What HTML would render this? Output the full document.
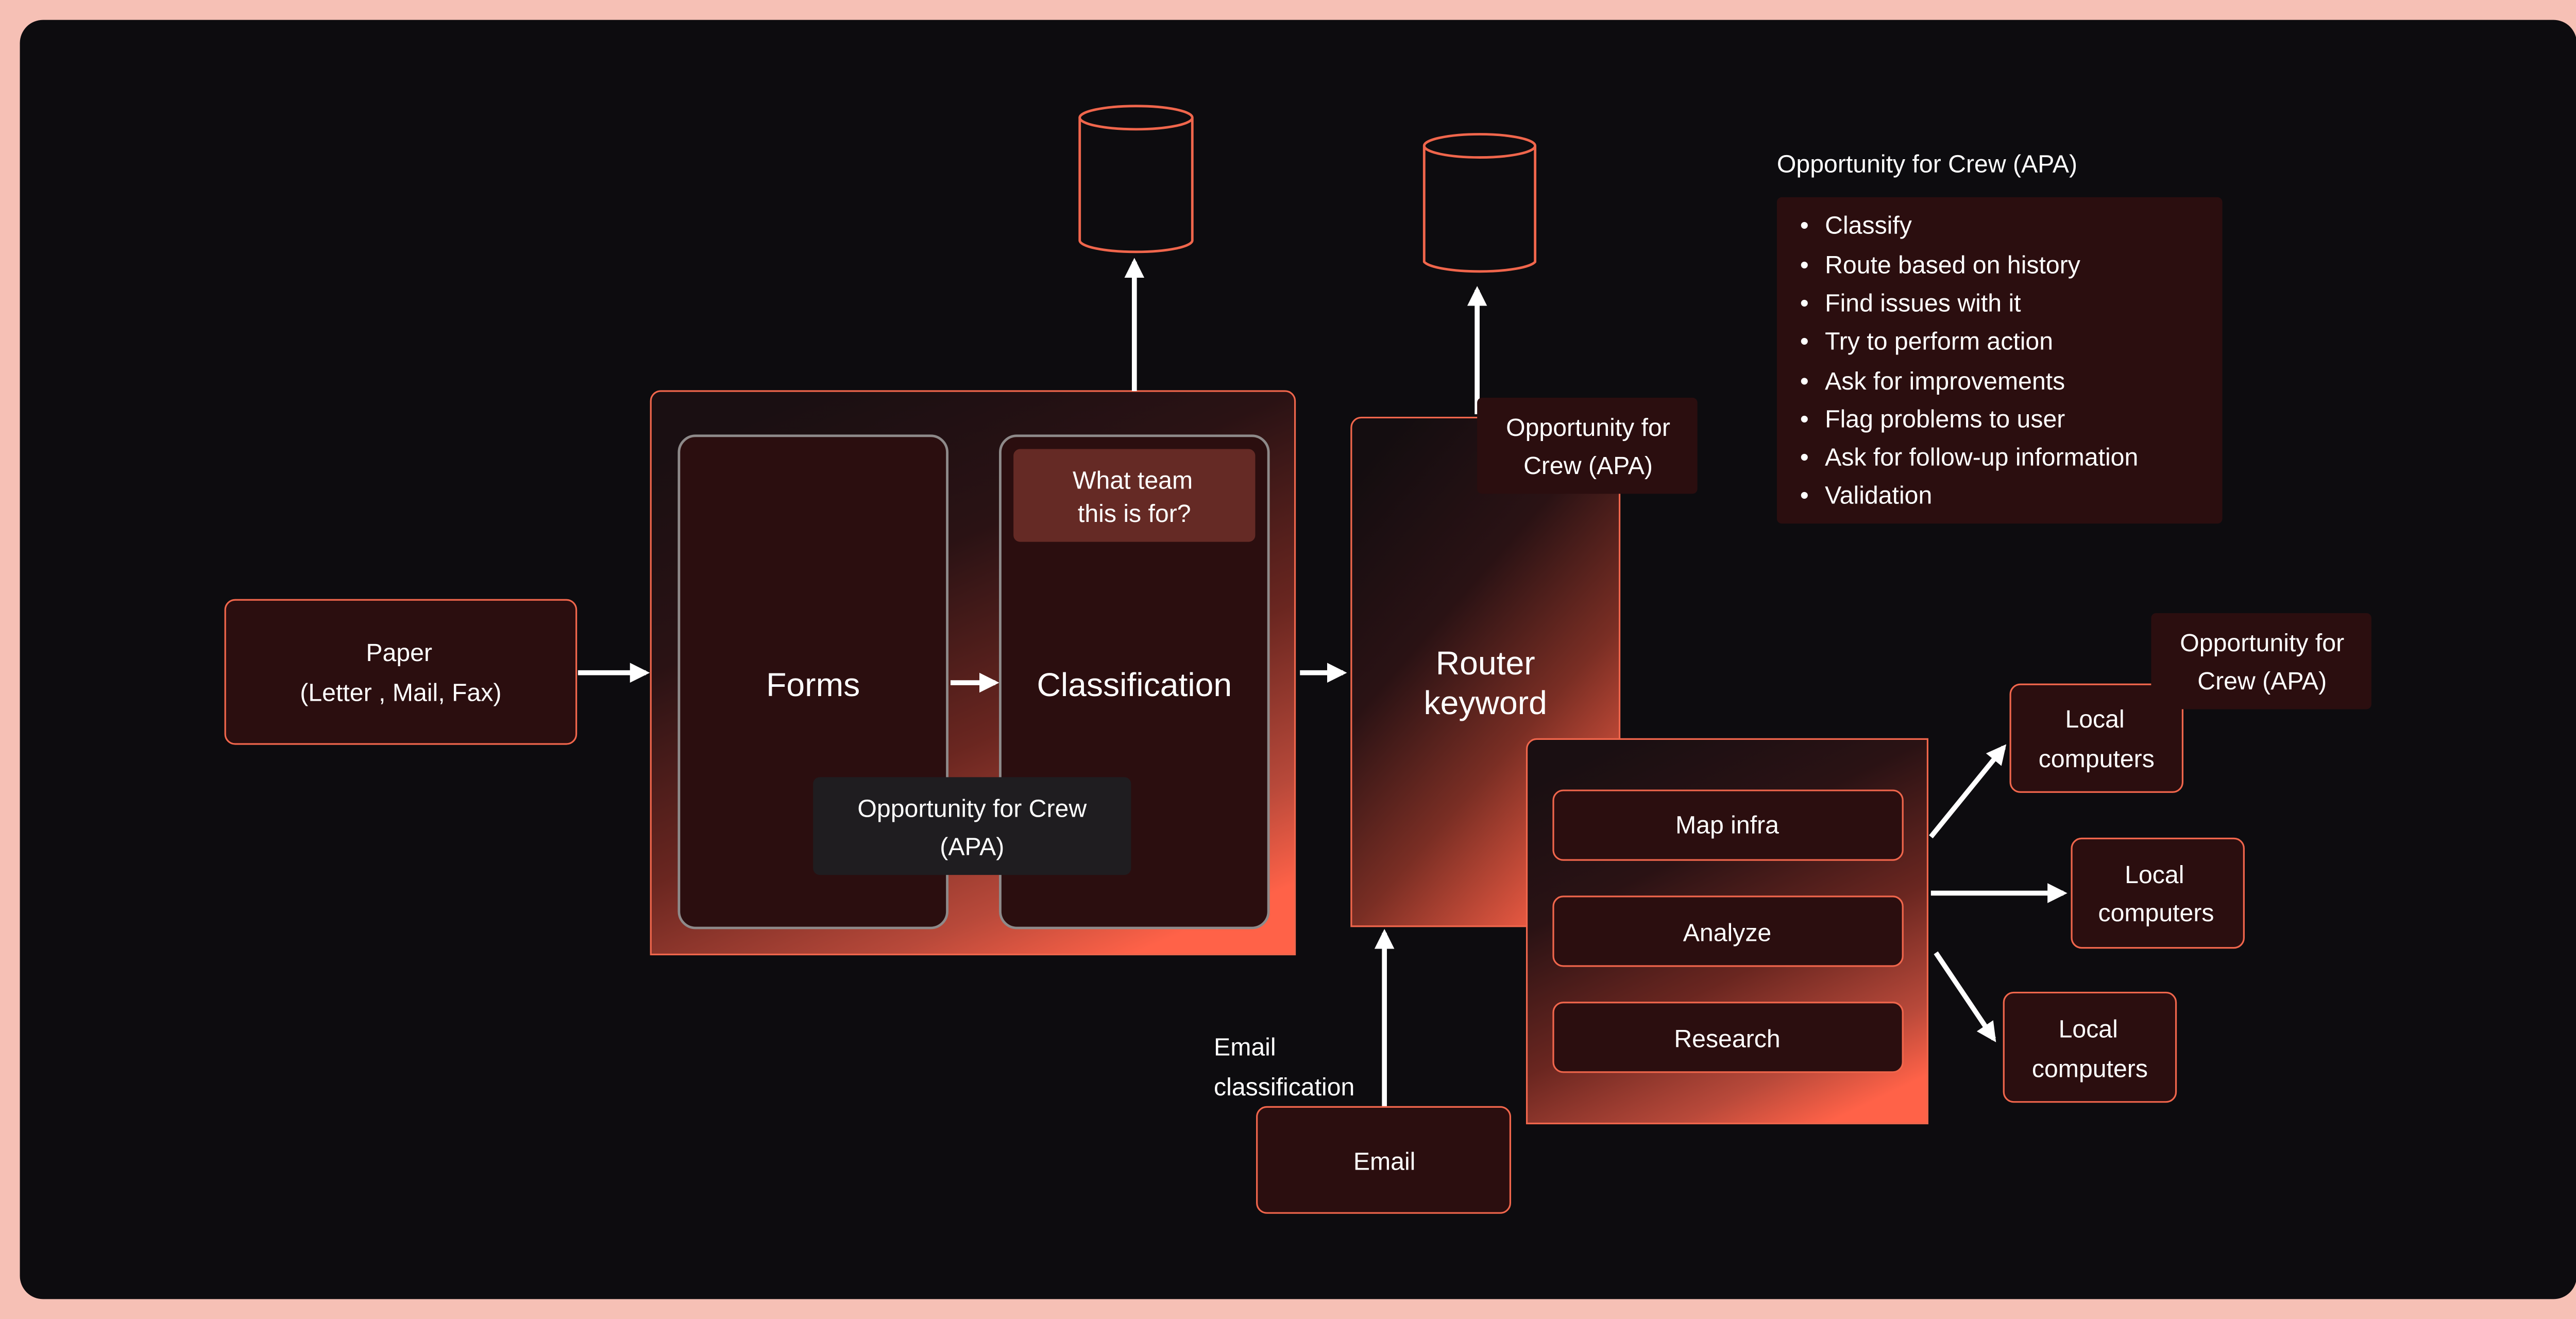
<!DOCTYPE html>
<html><head><meta charset="utf-8"><style>
html,body{margin:0;padding:0;background:#f6c0b5;overflow:hidden;}
svg{display:block}
text{font-family:"Liberation Sans",sans-serif;fill:#fff;}
</style></head><body>
<svg width="5040" height="2560" viewBox="0 0 1568 796" preserveAspectRatio="none" xmlns="http://www.w3.org/2000/svg">
<defs>
<linearGradient id="g1" x1="0.25" y1="0" x2="0.75" y2="1">
<stop offset="0" stop-color="#1a0f12"/><stop offset="0.3" stop-color="#2a1214"/><stop offset="0.6" stop-color="#6a2620"/><stop offset="0.85" stop-color="#b8493a"/><stop offset="1" stop-color="#ff6248"/>
</linearGradient>
<linearGradient id="g2" x1="0.2" y1="0" x2="0.8" y2="1">
<stop offset="0" stop-color="#140d10"/><stop offset="0.35" stop-color="#2a1214"/><stop offset="0.65" stop-color="#7a2e24"/><stop offset="1" stop-color="#ff6248"/>
</linearGradient>
<marker id="ah" viewBox="0 0 10 10" refX="8" refY="5" markerWidth="4" markerHeight="4" orient="auto"><path d="M0,0 L10,5 L0,10 z" fill="#fff"/></marker>
</defs>
<rect width="1568" height="796" fill="#f6c0b5"/>
<rect x="12" y="12" width="1544" height="772" rx="14" fill="#0d0c0f"/>

<rect x="136" y="362" width="212" height="87" rx="6" fill="#2b0e0f" stroke="#f0664c"/>
<text x="241" y="399" font-size="15" text-anchor="middle">Paper</text>
<text x="242" y="423" font-size="15" text-anchor="middle">(Letter , Mail, Fax)</text>
<line x1="349" y1="406" x2="390" y2="406" stroke="#fff" stroke-width="3" marker-end="url(#ah)"/>

<path d="M393,576 V242 a6,6 0 0 1 6,-6 H776 a6,6 0 0 1 6,6 V576 z" fill="url(#g1)" stroke="#f0664c"/>
<rect x="410" y="263" width="162" height="297" rx="10" fill="#2b0e0f" stroke="#8e8a8a" stroke-width="1.5"/>
<text x="491" y="420" font-size="20" text-anchor="middle">Forms</text>
<line x1="574" y1="412" x2="601" y2="412" stroke="#fff" stroke-width="3" marker-end="url(#ah)"/>
<rect x="604" y="263" width="162" height="297" rx="10" fill="#2b0e0f" stroke="#8e8a8a" stroke-width="1.5"/>
<text x="685" y="420" font-size="20" text-anchor="middle">Classification</text>
<rect x="612" y="271" width="146" height="56" rx="4" fill="#652a25"/>
<text x="684" y="295" font-size="15" text-anchor="middle">What team</text>
<text x="685" y="315" font-size="15" text-anchor="middle">this is for?</text>
<rect x="491" y="469" width="192" height="59" rx="4" fill="#1f1d20"/>
<text x="587" y="493" font-size="15" text-anchor="middle">Opportunity for Crew</text>
<text x="587" y="516" font-size="15" text-anchor="middle">(APA)</text>

<line x1="685" y1="236" x2="685" y2="158" stroke="#fff" stroke-width="3" marker-end="url(#ah)"/>
<path d="M652,71 V145 A34,7 0 0 0 720,145 V71" fill="#0d0c0f" stroke="#f0664c" stroke-width="1.5"/>
<ellipse cx="686" cy="71" rx="34" ry="7" fill="#0d0c0f" stroke="#f0664c" stroke-width="1.5"/>

<line x1="785" y1="406" x2="811" y2="406" stroke="#fff" stroke-width="3" marker-end="url(#ah)"/>

<path d="M816,559 V258 a6,6 0 0 1 6,-6 H978 V559 z" fill="url(#g2)" stroke="#f0664c"/>
<text x="897" y="407" font-size="20" text-anchor="middle">Router</text>
<text x="897" y="431" font-size="20" text-anchor="middle">keyword</text>
<line x1="892" y1="250" x2="892" y2="175" stroke="#fff" stroke-width="3" marker-end="url(#ah)"/>
<path d="M860,88 V158 A34,7 0 0 0 927,158 V88" fill="#0d0c0f" stroke="#f0664c" stroke-width="1.5"/>
<ellipse cx="893.5" cy="88" rx="33.5" ry="7" fill="#0d0c0f" stroke="#f0664c" stroke-width="1.5"/>
<rect x="892" y="240" width="133" height="58" rx="3" fill="#2b0e0f"/>
<text x="959" y="263" font-size="15" text-anchor="middle">Opportunity for</text>
<text x="959" y="286" font-size="15" text-anchor="middle">Crew (APA)</text>

<path d="M922,678 V452 a6,6 0 0 1 6,-6 H1164 V678 z" fill="url(#g1)" stroke="#f0664c"/>
<rect x="938" y="477" width="211" height="42" rx="6" fill="#2b0e0f" stroke="#f0664c"/>
<text x="1043" y="503" font-size="15" text-anchor="middle">Map infra</text>
<rect x="938" y="541" width="211" height="42" rx="6" fill="#2b0e0f" stroke="#f0664c"/>
<text x="1043" y="568" font-size="15" text-anchor="middle">Analyze</text>
<rect x="938" y="605" width="211" height="42" rx="6" fill="#2b0e0f" stroke="#f0664c"/>
<text x="1043" y="632" font-size="15" text-anchor="middle">Research</text>

<line x1="1166" y1="505" x2="1210" y2="451" stroke="#fff" stroke-width="3" marker-end="url(#ah)"/>
<line x1="1166" y1="539" x2="1246" y2="539" stroke="#fff" stroke-width="3" marker-end="url(#ah)"/>
<line x1="1169" y1="575" x2="1204" y2="627" stroke="#fff" stroke-width="3" marker-end="url(#ah)"/>

<rect x="1214" y="413" width="104" height="65" rx="6" fill="#2b0e0f" stroke="#f0664c"/>
<text x="1265" y="439" font-size="15" text-anchor="middle">Local</text>
<text x="1266" y="463" font-size="15" text-anchor="middle">computers</text>
<rect x="1251" y="506" width="104" height="66" rx="6" fill="#2b0e0f" stroke="#f0664c"/>
<text x="1301" y="533" font-size="15" text-anchor="middle">Local</text>
<text x="1302" y="556" font-size="15" text-anchor="middle">computers</text>
<rect x="1210" y="599" width="104" height="66" rx="6" fill="#2b0e0f" stroke="#f0664c"/>
<text x="1261" y="626" font-size="15" text-anchor="middle">Local</text>
<text x="1262" y="650" font-size="15" text-anchor="middle">computers</text>
<rect x="1299" y="370" width="133" height="58" rx="3" fill="#2b0e0f"/>
<text x="1366" y="393" font-size="15" text-anchor="middle">Opportunity for</text>
<text x="1366" y="416" font-size="15" text-anchor="middle">Crew (APA)</text>

<line x1="836" y1="668" x2="836" y2="563" stroke="#fff" stroke-width="3" marker-end="url(#ah)"/>
<rect x="759" y="668" width="153" height="64" rx="6" fill="#2b0e0f" stroke="#f0664c"/>
<text x="836" y="706" font-size="15" text-anchor="middle">Email</text>
<text x="733" y="637" font-size="15">Email</text>
<text x="733" y="661" font-size="15">classification</text>

<text x="1073" y="104" font-size="15">Opportunity for Crew (APA)</text>
<rect x="1073" y="119" width="269" height="197" rx="3" fill="#2b0e0f"/>
<g font-size="15">
<text x="1087" y="141">•</text><text x="1102" y="141">Classify</text>
<text x="1087" y="165">•</text><text x="1102" y="165">Route based on history</text>
<text x="1087" y="188">•</text><text x="1102" y="188">Find issues with it</text>
<text x="1087" y="211">•</text><text x="1102" y="211">Try to perform action</text>
<text x="1087" y="235">•</text><text x="1102" y="235">Ask for improvements</text>
<text x="1087" y="258">•</text><text x="1102" y="258">Flag problems to user</text>
<text x="1087" y="281">•</text><text x="1102" y="281">Ask for follow-up information</text>
<text x="1087" y="304">•</text><text x="1102" y="304">Validation</text>
</g>
</svg>
</body></html>
